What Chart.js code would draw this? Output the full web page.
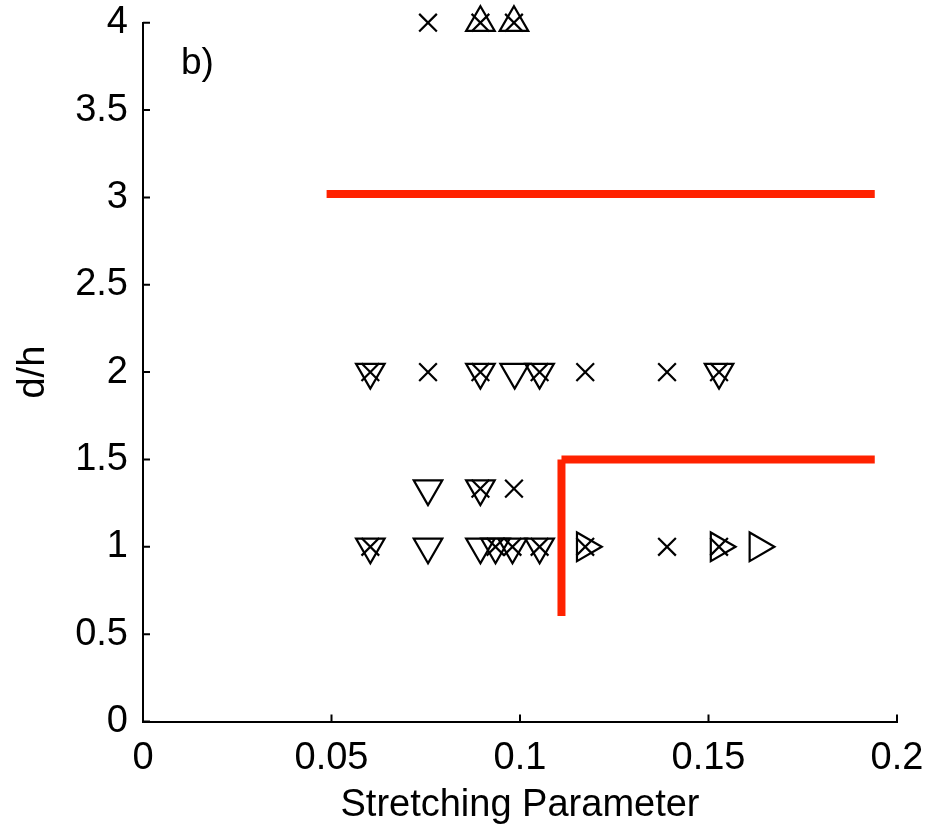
<!DOCTYPE html>
<html>
<head>
<meta charset="utf-8">
<script src="https://cdn.jsdelivr.net/npm/chart.js@4/dist/chart.umd.min.js"></script>
<style>
  html, body { margin: 0; padding: 0; background: #fff; }
  canvas { display: block; }
</style>
</head>
<body>
<canvas id="chart" width="927" height="830"></canvas>
<script>
// tick labels
const xTicks = [0, 0.05, 0.1, 0.15, 0.2];
const xTickLabels = ["0", "0.05", "0.1", "0.15", "0.2"];
const yTicks = [0, 0.5, 1, 1.5, 2, 2.5, 3, 3.5, 4];
const yTickLabels = ["0", "0.5", "1", "1.5", "2", "2.5", "3", "3.5", "4"];

// x markers
const crossX = [0.0756, 0.0895, 0.0984,
  0.0603, 0.0756, 0.0895, 0.1052, 0.1173, 0.139, 0.1528,
  0.0895, 0.0984,
  0.0603, 0.0935, 0.098, 0.1052, 0.1173, 0.139, 0.1528];
const crossY = [4, 4, 4,
  2, 2, 2, 2, 2, 2, 2,
  1.333, 1.333,
  1, 1, 1, 1, 1, 1, 1];

// downward triangles
const triDownX = [0.0603, 0.0895, 0.0986, 0.1052, 0.1528,
  0.0756, 0.0895,
  0.0603, 0.0756, 0.0895, 0.0935, 0.098, 0.1052];
const triDownY = [2, 2, 2, 2, 2,
  1.333, 1.333,
  1, 1, 1, 1, 1, 1];

// upward triangles
const triUpX = [0.0895, 0.0984];
const triUpY = [4, 4];

// right-pointing triangles
const triRightX = [0.1173, 0.1528, 0.1631];
const triRightY = [1, 1, 1];

// red boundary lines
const upperLineX = [0.0487, 0.1941];
const upperLineY = [3.02, 3.02];
const cornerVertX = [0.111, 0.111];
const cornerVertY = [0.604, 1.5];
const cornerHorX = [0.111, 0.1941];
const cornerHorY = [1.5, 1.5];

const FONT = "'Liberation Sans', Arial, sans-serif";
const pts = (xs, ys) => xs.map((x, i) => ({ x: x, y: ys[i] }));

function markerSet(data, style, rotation, radius) {
  return {
    data: data,
    pointStyle: style,
    rotation: rotation,
    pointRadius: radius,
    pointBorderWidth: 2.2,
    pointBorderColor: "#000",
    pointBackgroundColor: "rgba(0,0,0,0)",
    showLine: false,
    clip: false,
  };
}

function redLine(data) {
  return {
    data: data,
    showLine: true,
    borderColor: "#ff2200",
    borderWidth: 8,
    borderCapStyle: "butt",
    pointRadius: 0,
    clip: false,
  };
}

const inwardTicks = {
  id: "inwardTicks",
  afterDraw(chart) {
    const { ctx, chartArea, scales } = chart;
    ctx.save();
    ctx.strokeStyle = "#000";
    ctx.lineWidth = 2;
    ctx.beginPath();
    xTicks.forEach((v) => {
      const px = scales.x.getPixelForValue(v);
      ctx.moveTo(px, chartArea.bottom);
      ctx.lineTo(px, chartArea.bottom - 7);
    });
    yTicks.forEach((v) => {
      const py = scales.y.getPixelForValue(v);
      ctx.moveTo(chartArea.left, py);
      ctx.lineTo(chartArea.left + 7, py);
    });
    ctx.stroke();
    ctx.fillStyle = "#000";
    ctx.font = "37px " + FONT;
    ctx.textBaseline = "alphabetic";
    ctx.fillText("b)", chartArea.left + 38, chartArea.top + 51);
    ctx.restore();
  },
};

new Chart(document.getElementById("chart").getContext("2d"), {
  type: "scatter",
  data: {
    datasets: [
      redLine(pts(upperLineX, upperLineY)),
      redLine(pts(cornerVertX, cornerVertY)),
      redLine(pts(cornerHorX, cornerHorY)),
      markerSet(pts(triDownX, triDownY), "triangle", 180, 16.5),
      markerSet(pts(triUpX, triUpY), "triangle", 0, 16.5),
      markerSet(pts(triRightX, triRightY), "triangle", 90, 16.5),
      markerSet(pts(crossX, crossY), "crossRot", 0, 12.5),
    ],
  },
  options: {
    responsive: false,
    animation: false,
    layout: { padding: { top: 22.7, right: 30, left: 0, bottom: 0 } },
    plugins: { legend: { display: false }, tooltip: { enabled: false } },
    scales: {
      x: {
        type: "linear",
        min: 0,
        max: 0.2,
        afterFit: (s) => {
          s.height = 108.5;
          s.paddingLeft = 0;
          s.paddingRight = 0;
        },
        afterBuildTicks: (s) => { s.ticks = xTicks.map((v) => ({ value: v })); },
        ticks: {
          padding: 14,
          color: "#000",
          font: { family: FONT, size: 38 },
          callback: (v) => xTickLabels[xTicks.indexOf(v)],
        },
        grid: { display: false, drawTicks: false },
        border: { display: true, color: "#000", width: 2 },
        title: {
          display: true,
          text: "Stretching Parameter",
          color: "#000",
          font: { family: FONT, size: 38 },
          padding: { top: 0, bottom: 2 },
        },
      },
      y: {
        type: "linear",
        min: 0,
        max: 4,
        afterFit: (s) => {
          s.width = 143;
          s.paddingTop = 0;
          s.paddingBottom = 0;
        },
        afterBuildTicks: (s) => { s.ticks = yTicks.map((v) => ({ value: v })); },
        ticks: {
          padding: 15,
          color: "#000",
          font: { family: FONT, size: 38 },
          callback: (v) => yTickLabels[yTicks.indexOf(v)],
        },
        grid: { display: false, drawTicks: false },
        border: { display: true, color: "#000", width: 2 },
        title: {
          display: true,
          text: "d/h",
          color: "#000",
          font: { family: FONT, size: 38 },
          padding: { top: 11, bottom: 0 },
        },
      },
    },
  },
  plugins: [inwardTicks],
});
</script>
</body>
</html>
